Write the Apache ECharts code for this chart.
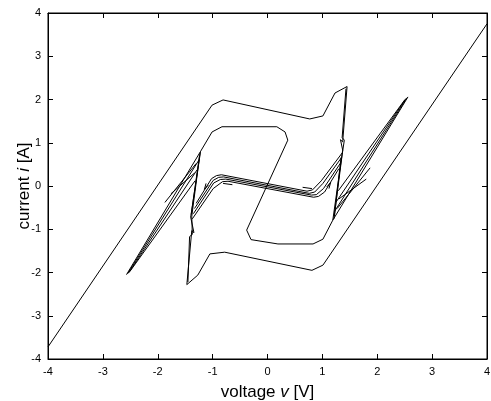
<!DOCTYPE html>
<html>
<head>
<meta charset="utf-8">
<title>i-v hysteresis</title>
<script src="https://cdn.jsdelivr.net/npm/echarts@6/dist/echarts.min.js"></script>
<style>
  body { margin: 0; background: #fff; }
  #chart { width: 491px; height: 401px; }
</style>
</head>
<body>
<div id="chart"></div>
<script>
// outer loop, rising branch (left diagonal, top, right spike)
var outerUp = [[-4, -3.72], [-1.01, 1.87], [-0.81, 1.99], [0.77, 1.55], [1.01, 1.62], [1.23, 2.15], [1.45, 2.30],
  [1.37, 1.02], [1.33, 1.07], [1.37, 0.83], [1.19, -0.79]];
// outer loop, falling branch
var outerDown = [[4, 3.75], [1.01, -1.83], [0.81, -1.95], [-0.78, -1.53], [-1.05, -1.57], [-1.27, -2.06], [-1.47, -2.28],
  [-1.38, -1.03], [-1.34, -1.08], [-1.40, -0.72], [-1.22, 0.80]];
// second line of each spike
var spikeL = [[-1.45, -2.22], [-1.42, -1.17], [-1.37, -1.12], [-1.38, -0.70], [-1.23, 0.76]];
var spikeR = [[1.43, 2.25], [1.36, 1.12], [1.40, 1.06], [1.36, 0.72], [1.21, -0.76]];
var spikeL2 = [[-1.39, -0.66], [-1.24, 0.70]];
var spikeR2 = [[1.34, 0.66], [1.22, -0.70]];

// inner loop
var innerLoop = [[-1.22, 0.80], [-1.01, 1.25], [-0.83, 1.37], [0.17, 1.37], [0.32, 1.25], [0.37, 1.06],
  [-0.38, -1.02], [-0.30, -1.24], [0.19, -1.34], [0.83, -1.34], [1.01, -1.23], [1.19, -0.79]];

// flat band in the middle (four near-parallel runs)
var band1 = [[-1.30, -0.40], [-1.02, 0.17], [-0.93, 0.24], [-0.84, 0.26], [0.72, -0.12], [0.82, -0.09], [0.98, 0.12], [1.37, 0.78]];
var band2 = [[-1.33, -0.52], [-0.99, 0.13], [-0.89, 0.20], [-0.80, 0.21], [0.76, -0.17], [0.86, -0.14], [1.01, 0.06], [1.35, 0.66]];
var band3 = [[-1.35, -0.64], [-0.98, 0.07], [-0.86, 0.15], [-0.76, 0.16], [0.80, -0.21], [0.89, -0.20], [1.02, -0.06], [1.33, 0.53]];
var band4 = [[-1.37, -0.76], [-0.99, -0.06], [-0.82, 0.10], [-0.72, 0.11], [0.84, -0.26], [0.93, -0.24], [1.04, -0.14], [1.30, 0.40]];
var stubL = [[-0.81, 0.06], [-0.64, 0.03]];
var stubR = [[0.64, -0.03], [0.81, -0.06]];
var hookL = [[-1.08, 0.02], [-1.15, -0.08], [-1.12, 0.06]];
var hookR = [[1.08, -0.02], [1.15, 0.08], [1.12, -0.06]];

// fans of diagonals out of the spikes
var fanL1 = [[-1.22, 0.80], [-2.57, -2.05]];
var fanL2 = [[-1.25, 0.60], [-2.55, -2.03]];
var fanL3 = [[-1.28, 0.38], [-2.53, -2.01]];
var fanL4 = [[-1.32, 0.12], [-2.51, -1.98]];
var fanL5 = [[-1.30, 0.52], [-1.87, -0.38]];
var fanL6 = [[-1.33, 0.30], [-1.76, -0.18]];
var fanR1 = [[1.19, -0.79], [2.56, 2.06]];
var fanR2 = [[1.22, -0.59], [2.54, 2.04]];
var fanR3 = [[1.25, -0.37], [2.52, 2.02]];
var fanR4 = [[1.29, -0.11], [2.50, 1.99]];
var fanR5 = [[1.27, -0.52], [1.87, 0.42]];
var fanR6 = [[1.30, -0.30], [1.80, 0.16]];

var allLines = [outerUp, outerDown, spikeL, spikeR, spikeL2, spikeR2, innerLoop,
  band1, band2, band3, band4, stubL, stubR, hookL, hookR,
  fanL1, fanL2, fanL3, fanL4, fanL5, fanL6, fanR1, fanR2, fanR3, fanR4, fanR5, fanR6];

var chart = echarts.init(document.getElementById('chart'));

var baseAxis = {
  type: 'value', min: -4, max: 4, interval: 1,
  axisLine: { show: true, onZero: false, lineStyle: { color: '#000', width: 1 } },
  axisTick: { show: true, inside: true, length: 5, lineStyle: { color: '#000' } },
  splitLine: { show: false }
};
var labelStyle = { show: true, color: '#000', fontFamily: 'Liberation Sans', fontSize: 11 };
var titleStyle = { color: '#000', fontFamily: 'Liberation Sans', fontSize: 17,
  rich: { i: { fontStyle: 'italic', fontFamily: 'Liberation Sans', fontSize: 17, color: '#000' } } };

var series = allLines.map(function (pts) {
  return {
    type: 'line', data: pts, showSymbol: false, symbol: 'none', silent: true,
    lineStyle: { color: '#000', width: 1 }
  };
});

chart.setOption({
  animation: false,
  backgroundColor: '#fff',
  grid: { left: 48, right: 4, top: 13, bottom: 42, show: true, borderColor: '#000', borderWidth: 1,
    containLabel: false, outerBoundsMode: 'none' },
  xAxis: [
    Object.assign({}, baseAxis, {
      position: 'bottom',
      axisLabel: Object.assign({}, labelStyle, { margin: 7 }),
      name: 'voltage {i|v} [V]',
      nameLocation: 'middle', nameGap: 25,
      nameTextStyle: titleStyle
    }),
    Object.assign({}, baseAxis, { position: 'top', axisLabel: { show: false } })
  ],
  yAxis: [
    Object.assign({}, baseAxis, {
      position: 'left',
      axisLabel: Object.assign({}, labelStyle, { margin: 7 }),
      name: 'current {i|i} [A]',
      nameLocation: 'middle', nameGap: 15, nameMoveOverlap: false,
      nameTextStyle: titleStyle
    }),
    Object.assign({}, baseAxis, { position: 'right', axisLabel: { show: false } })
  ],
  series: series
});
</script>
</body>
</html>
